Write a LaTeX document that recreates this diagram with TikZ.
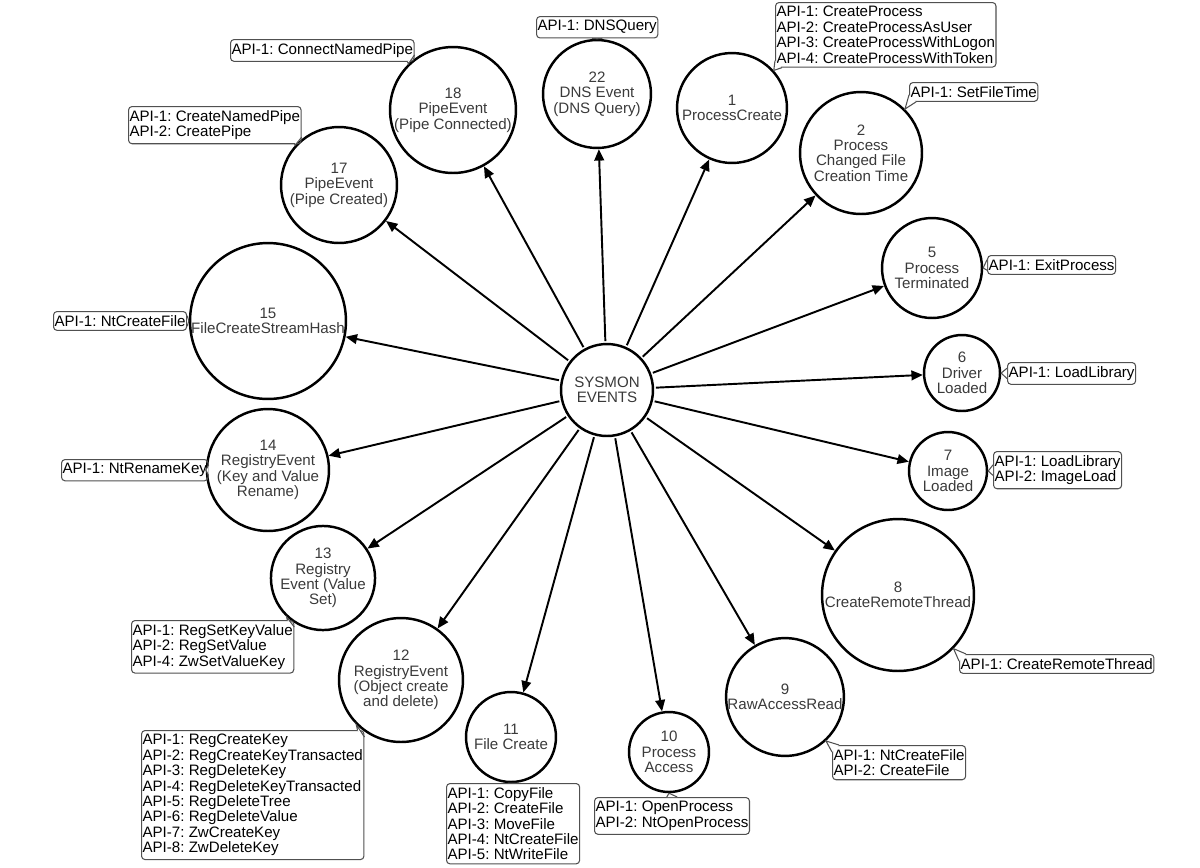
\documentclass[tikz,border=0pt]{standalone}
\usepackage{fontspec}
\setmainfont{Liberation Sans}
\usepackage{tikz}
\usetikzlibrary{arrows.meta, calc}
\definecolor{evgray}{HTML}{3A3A3A}
\definecolor{boxgray}{HTML}{505050}
\frenchspacing
\newcommand{\apifont}{\fontsize{8.6pt}{8.75pt}\selectfont}
\tikzset{
    event/.style={draw, circle, line width=1.4pt, inner sep=0pt, minimum size=#1*0.04cm, align=center, text=evgray, font=\apifont},
    api/.style={draw=boxgray, line width=0.6pt, rounded corners=2pt, anchor=north west, inner xsep=0.6pt, inner ysep=2.2pt, align=left, font=\apifont},
    tail/.style={draw=boxgray, fill=white, line width=0.6pt},
    arrow/.style={-{Triangle[length=6.5pt,width=5.5pt]}, line width=1.1pt, shorten <=1pt}
}
\newcommand{\calltail}[3]{\filldraw[tail] (#1) -- (#2) -- (#3);}

\begin{document}
\begin{tikzpicture}[x=0.02cm, y=-0.02cm]
\useasboundingbox (0,0) rectangle (1200,867);

% hub and events
\node[event=46] (hub) at (607,390) {SYSMON\\EVENTS};
\node[event=54] (c22) at (597,94) {22\\DNS Event\\(DNS Query)};
\node[event=63] (c18) at (453,110) {18\\PipeEvent\\(Pipe Connected)};
\node[event=55] (c1) at (732,108) {1\\ProcessCreate};
\node[event=61] (c2) at (861,153) {2\\Process\\Changed File\\Creation Time};
\node[event=58] (c17) at (339,185) {17\\PipeEvent\\(Pipe Created)};
\node[event=78] (c15) at (268,321) {15\\FileCreateStreamHash};
\node[event=50] (c5) at (932,268) {5\\Process\\Terminated};
\node[event=38] (c6) at (962,373) {6\\Driver\\Loaded};
\node[event=39] (c7) at (948,471) {7\\Image\\Loaded};
\node[event=61] (c14) at (268,470) {14\\RegistryEvent\\(Key and Value\\Rename)};
\node[event=52] (c13) at (323,578) {13\\Registry\\Event (Value\\Set)};
\node[event=76] (c8) at (898,595) {8\\CreateRemoteThread};
\node[event=62] (c12) at (401,680) {12\\RegistryEvent\\(Object create\\and delete)};
\node[event=57] (c9) at (785,697) {9\\RawAccessRead};
\node[event=45] (c11) at (511,737) {11\\File Create};
\node[event=40] (c10) at (669,752) {10\\Process\\Access};

% api callouts
\node[api] (b22) at (536,16) {API-1: DNSQuery};
\node[api] (b1) at (775,2) {API-1: CreateProcess\\API-2: CreateProcessAsUser\\API-3: CreateProcessWithLogon\\API-4: CreateProcessWithToken};
\node[api] (b2) at (909,82) {API-1: SetFileTime};
\node[api] (b18) at (230,39) {API-1: ConnectNamedPipe};
\node[api] (b17) at (128,106) {API-1: CreateNamedPipe\\API-2: CreatePipe};
\node[api] (b15) at (53,311) {API-1: NtCreateFile};
\node[api] (b14) at (61,459) {API-1: NtRenameKey};
\node[api] (b5) at (987,255) {API-1: ExitProcess};
\node[api] (b6) at (1007,362) {API-1: LoadLibrary};
\node[api] (b7) at (993,451) {API-1: LoadLibrary\\API-2: ImageLoad};
\node[api] (b13) at (131,620) {API-1: RegSetKeyValue\\API-2: RegSetValue\\API-4: ZwSetValueKey};
\node[api] (b12) at (141,730) {API-1: RegCreateKey\\API-2: RegCreateKeyTransacted\\API-3: RegDeleteKey\\API-4: RegDeleteKeyTransacted\\API-5: RegDeleteTree\\API-6: RegDeleteValue\\API-7: ZwCreateKey\\API-8: ZwDeleteKey};
\node[api] (b11) at (446,783) {API-1: CopyFile\\API-2: CreateFile\\API-3: MoveFile\\API-4: NtCreateFile\\API-5: NtWriteFile};
\node[api] (b10) at (594,797) {API-1: OpenProcess\\API-2: NtOpenProcess};
\node[api] (b9) at (832,745) {API-1: NtCreateFile\\API-2: CreateFile};
\node[api] (b8) at (959,654) {API-1: CreateRemoteThread};

% callout tails
\calltail{[xshift=-3pt]b22.south}{c22.north}{[xshift=3pt]b22.south}
\calltail{[yshift=4pt]b1.south west}{c1.42}{[xshift=4pt]b1.south west}
\calltail{[yshift=4pt]b2.south west}{c2.45}{[xshift=4pt]b2.south west}
\calltail{[xshift=-4pt]b18.south east}{c18.134}{[yshift=4pt]b18.south east}
\calltail{[xshift=-4pt]b17.south east}{c17.138}{[yshift=4pt]b17.south east}
\calltail{[yshift=3pt]b15.east}{c15.180}{[yshift=-3pt]b15.east}
\calltail{[yshift=3pt]b14.east}{c14.180}{[yshift=-3pt]b14.east}
\calltail{[yshift=3pt]b5.west}{c5.0}{[yshift=-3pt]b5.west}
\calltail{[yshift=3pt]b6.west}{c6.0}{[yshift=-3pt]b6.west}
\calltail{[yshift=3pt]b7.west}{c7.0}{[yshift=-3pt]b7.west}
\calltail{[xshift=-4pt]b13.north east}{c13.227}{[yshift=-4pt]b13.north east}
\calltail{[xshift=-4pt]b12.north east}{c12.225}{[yshift=-4pt]b12.north east}
\calltail{[xshift=-3pt]b11.north}{c11.south}{[xshift=3pt]b11.north}
\calltail{[xshift=-3pt]b10.north}{c10.south}{[xshift=3pt]b10.north}
\calltail{[xshift=4pt]b9.north west}{c9.-47}{[yshift=-4pt]b9.north west}
\calltail{[xshift=4pt]b8.north west}{c8.-44}{[yshift=-4pt]b8.north west}

% arrows from the hub
\draw[arrow] (hub) -- (c22);
\draw[arrow] (hub) -- (c18);
\draw[arrow] (hub) -- (c1);
\draw[arrow] (hub) -- (c2);
\draw[arrow] (hub) -- (c17);
\draw[arrow] (hub) -- (c15);
\draw[arrow] (hub) -- (c5);
\draw[arrow] (hub) -- (c6);
\draw[arrow] (hub) -- (c7);
\draw[arrow] (hub) -- (c14);
\draw[arrow] (hub) -- (c13);
\draw[arrow] (hub) -- (c8);
\draw[arrow] (hub) -- (c12);
\draw[arrow] (hub) -- (c9);
\draw[arrow] (hub) -- (c11);
\draw[arrow] (hub) -- (c10);
\end{tikzpicture}
\end{document}
